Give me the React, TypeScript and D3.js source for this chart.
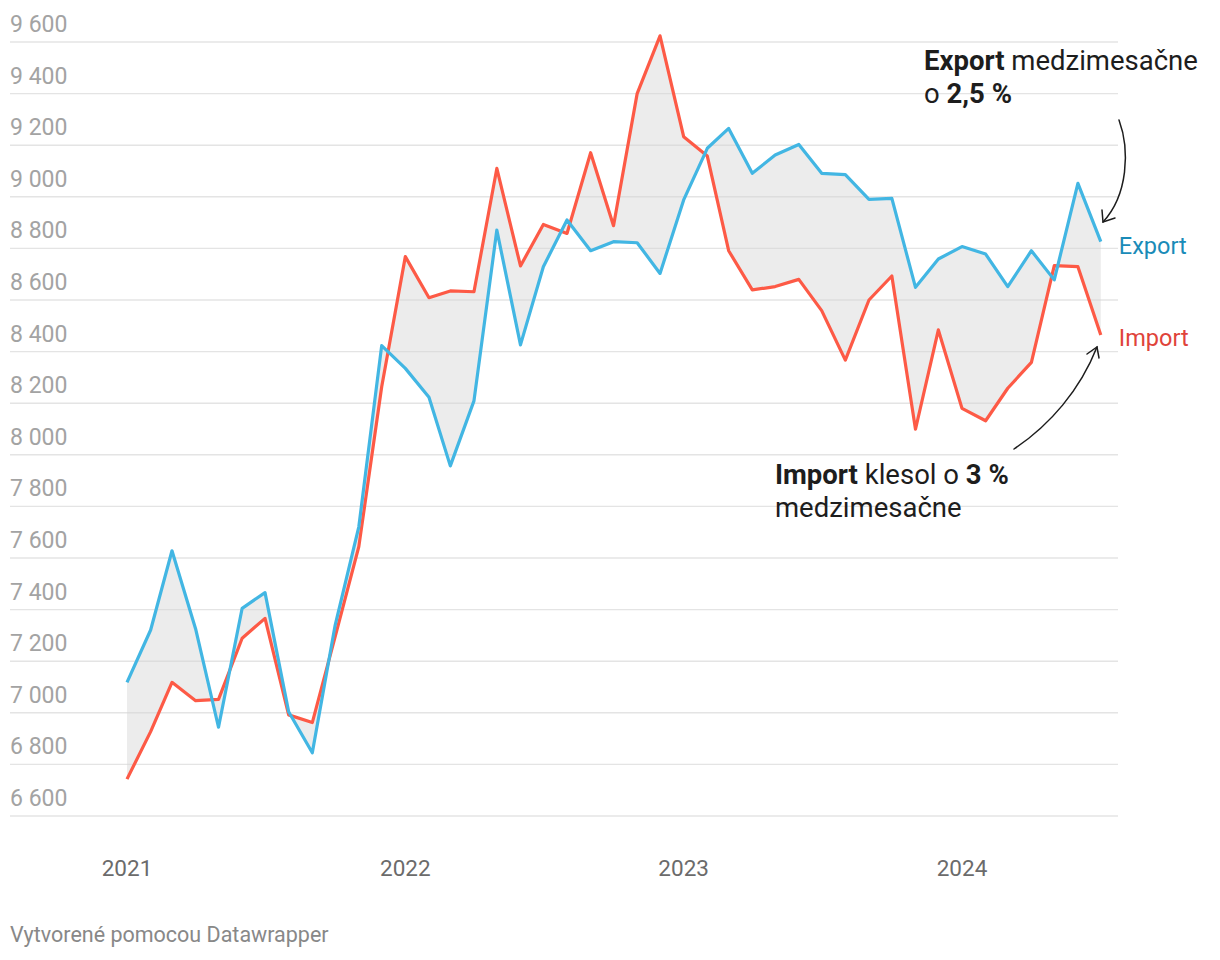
import React, { useRef, useEffect } from "react";
import * as d3 from "d3";

// months Jan 2021 .. Jul 2024
const months: string[] = d3
  .timeMonths(new Date(2021, 0, 1), new Date(2024, 7, 1))
  .map((d) => d3.timeFormat("%Y-%m")(d));

const exportValues = [
  7118, 7321, 7628, 7325, 6944, 7405, 7466, 7004, 6845, 7340, 7721, 8423,
  8335, 8223, 7957, 8209, 8871, 8426, 8729, 8910, 8791, 8826, 8822, 8703,
  8988, 9188, 9265, 9091, 9162, 9203, 9091, 9086, 8990, 8994, 8649, 8759,
  8807, 8778, 8652, 8791, 8678, 9052, 8826,
];

const importValues = [
  6743, 6927, 7118, 7047, 7052, 7289, 7366, 6992, 6962, 7295, 7644, 8264,
  8768, 8609, 8635, 8632, 9110, 8732, 8893, 8858, 9171, 8888, 9400, 9624,
  9233, 9158, 8791, 8639, 8652, 8680, 8559, 8367, 8600, 8693, 8099, 8484,
  8180, 8132, 8258, 8358, 8733, 8729, 8464,
];

const yTicks = [6600, 6800, 7000, 7200, 7400, 7600, 7800, 8000, 8200, 8400, 8600, 8800, 9000, 9200, 9400, 9600];
const xTicks = ["2021", "2022", "2023", "2024"];

const App: React.FC = () => {
  const ref = useRef<SVGSVGElement | null>(null);

  useEffect(() => {
    if (!ref.current) return;
    const svg = d3.select(ref.current);
    svg.selectAll("*").remove();

    const width = 1220;
    const height = 960;
    svg.attr("width", width).attr("height", height);

    const parse = d3.timeParse("%Y-%m");
    const data = months.map((m, i) => ({
      date: parse(m)!,
      exp: exportValues[i],
      imp: importValues[i],
    }));

    const x = d3
      .scaleTime()
      .domain([new Date(2021, 0, 1), new Date(2024, 0, 1)])
      .range([127, 962]);
    const y = d3.scaleLinear().domain([6600, 9600]).range([816, 42]);

    const font = "Roboto, 'Noto Sans', sans-serif";

    // grid + y labels
    const grid = svg.append("g");
    grid
      .selectAll("line")
      .data(yTicks)
      .enter()
      .append("line")
      .attr("x1", 10)
      .attr("x2", 1118)
      .attr("y1", (d) => y(d))
      .attr("y2", (d) => y(d))
      .attr("stroke", "#e4e4e4")
      .attr("stroke-width", 1.4);

    const fmt = (v: number) => d3.format(",")(v).replace(/,/g, " ");
    grid
      .selectAll("text")
      .data(yTicks)
      .enter()
      .append("text")
      .attr("x", 10)
      .attr("y", (d) => y(d) - 10)
      .style("font-family", font)
      .style("font-size", "23px")
      .style("fill", "#a3a3a3")
      .text((d) => fmt(d));

    // x labels
    svg
      .append("g")
      .selectAll("text")
      .data(xTicks)
      .enter()
      .append("text")
      .attr("x", (d) => x(new Date(+d, 0, 1)))
      .attr("y", 876)
      .attr("text-anchor", "middle")
      .style("font-family", font)
      .style("font-size", "22.5px")
      .style("fill", "#6b6b6b")
      .text((d) => d);

    // area between the two lines
    const area = d3
      .area<(typeof data)[number]>()
      .x((d) => x(d.date))
      .y0((d) => y(d.imp))
      .y1((d) => y(d.exp));
    svg
      .append("path")
      .datum(data)
      .attr("d", area)
      .attr("fill", "#d4d4d4")
      .attr("fill-opacity", 0.45);

    const lineExp = d3
      .line<(typeof data)[number]>()
      .x((d) => x(d.date))
      .y((d) => y(d.exp));
    const lineImp = d3
      .line<(typeof data)[number]>()
      .x((d) => x(d.date))
      .y((d) => y(d.imp));

    svg
      .append("path")
      .datum(data)
      .attr("d", lineImp)
      .attr("fill", "none")
      .attr("stroke", "#fd5a46")
      .attr("stroke-width", 3.2)
      .attr("stroke-linejoin", "round");

    svg
      .append("path")
      .datum(data)
      .attr("d", lineExp)
      .attr("fill", "none")
      .attr("stroke", "#42b6e3")
      .attr("stroke-width", 3.2)
      .attr("stroke-linejoin", "round");

    // end labels
    const last = data[data.length - 1];
    const lx = x(last.date) + 18;
    svg
      .append("text")
      .attr("x", lx)
      .attr("y", y(last.exp) + 12)
      .style("font-family", font)
      .style("font-size", "23.5px")
      .style("fill", "#1a8bb8")
      .text("Export");
    svg
      .append("text")
      .attr("x", lx)
      .attr("y", y(last.imp) + 11)
      .style("font-family", font)
      .style("font-size", "23.5px")
      .style("fill", "#e0433a")
      .text("Import");

    // annotations
    const ann = svg
      .append("g")
      .style("font-family", font)
      .style("font-size", "27.5px")
      .style("fill", "#1d1d1d");

    const t1 = ann.append("text").attr("x", 924).attr("y", 70);
    t1.append("tspan").style("font-weight", "bold").text("Export");
    t1.append("tspan").text(" medzimesačne");
    const t2 = ann.append("text").attr("x", 924).attr("y", 103);
    t2.append("tspan").text("o ");
    t2.append("tspan").style("font-weight", "bold").text("2,5 %");

    const t3 = ann.append("text").attr("x", 775).attr("y", 484);
    t3.append("tspan").style("font-weight", "bold").text("Import");
    t3.append("tspan").text(" klesol o ");
    t3.append("tspan").style("font-weight", "bold").text("3 %");
    ann.append("text").attr("x", 775).attr("y", 517).text("medzimesačne");

    const arrows = svg
      .append("g")
      .attr("fill", "none")
      .attr("stroke", "#1d1d1d")
      .attr("stroke-width", 1.5)
      .attr("stroke-linecap", "round");

    // export arrow
    arrows.append("path").attr("d", "M1119,120 C1130,150 1128,195 1103,222");
    arrows.append("path").attr("d", "M1102,210 L1103,222 L1115,218");

    // import arrow
    arrows.append("path").attr("d", "M1014,449 C1050,425 1080,390 1097,347");
    arrows.append("path").attr("d", "M1087,354 L1097,347 L1099,358");

    // footer
    svg
      .append("text")
      .attr("x", 10)
      .attr("y", 942)
      .style("font-family", font)
      .style("font-size", "21.5px")
      .style("fill", "#888888")
      .text("Vytvorené pomocou Datawrapper");
  }, []);

  return (
    <div style={{ position: "absolute", left: 0, top: 0 }}>
      <svg ref={ref}></svg>
    </div>
  );
};

export default App;
